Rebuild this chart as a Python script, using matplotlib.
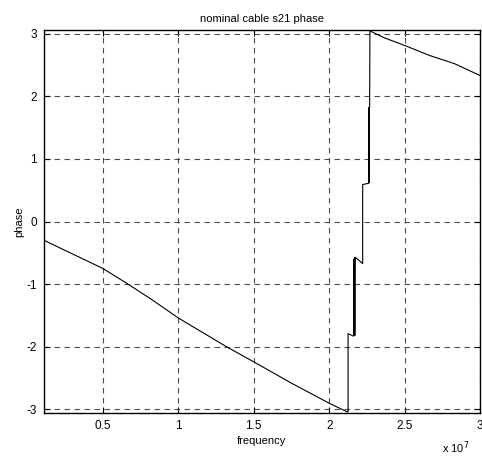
import numpy as np
import matplotlib
matplotlib.use('Agg')
import matplotlib.pyplot as plt

plt.rcParams['font.family'] = ['Liberation Sans', 'DejaVu Sans']
plt.rcParams['axes.unicode_minus'] = False

# frequency in units of 1e7 Hz, phase in rad
freq = [0.109, 0.3, 0.5, 0.66, 0.82, 1.0, 1.32, 1.5, 1.75, 2.0, 2.122,
        2.125, 2.125, 2.162, 2.164, 2.166, 2.168, 2.170, 2.172, 2.222, 2.222,
        2.262, 2.263, 2.264, 2.265, 2.266, 2.267, 2.268, 2.270, 2.28, 2.367,
        2.5, 2.665, 2.83, 3.0]
phase = [-0.30, -0.52, -0.75, -0.99, -1.24, -1.54, -2.0, -2.24, -2.58, -2.90, -3.04,
         -3.04, -1.79, -1.83, -0.60, -1.80, -0.58, -1.82, -0.57, -0.67, 0.59,
         0.61, 1.82, 0.62, 1.80, 0.63, 1.81, 1.82, 3.05, 3.03, 2.93,
         2.81, 2.65, 2.52, 2.33]

xticks = [0.5, 1, 1.5, 2, 2.5, 3]
xticklabels = ['0.5', '1', '1.5', '2', '2.5', '3']
yticks = [-3, -2, -1, 0, 1, 2, 3]

fig = plt.figure(figsize=(4.82, 4.59), dpi=100)
ax = fig.add_axes([0.0913, 0.1002, 0.9046, 0.8344])
ax.plot(np.array(freq) * 1e7, phase, '-k', lw=0.8)

ax.set_xlim(0.109e7, 3e7)
ax.set_ylim(-3.056, 3.056)
ax.set_xticks(np.array(xticks) * 1e7)
ax.set_xticklabels(xticklabels)
ax.set_yticks(yticks)
ax.tick_params(direction='in', top=True, right=True, labelsize=8.5, length=4, pad=5)
ax.grid(True, color='0.3', linestyle=(0, (5, 4)), lw=0.8)
for s in ax.spines.values():
    s.set_linewidth(1.0)

ax.set_title('nominal cable s21 phase', fontsize=8, pad=6)
ax.set_xlabel('frequency', fontsize=8, labelpad=3)
ax.set_ylabel('phase', fontsize=8, labelpad=2)
fig.text(0.945, 0.013, r'x 10$^7$', fontsize=8, ha='center')

fig.savefig('out.png', dpi=100)
